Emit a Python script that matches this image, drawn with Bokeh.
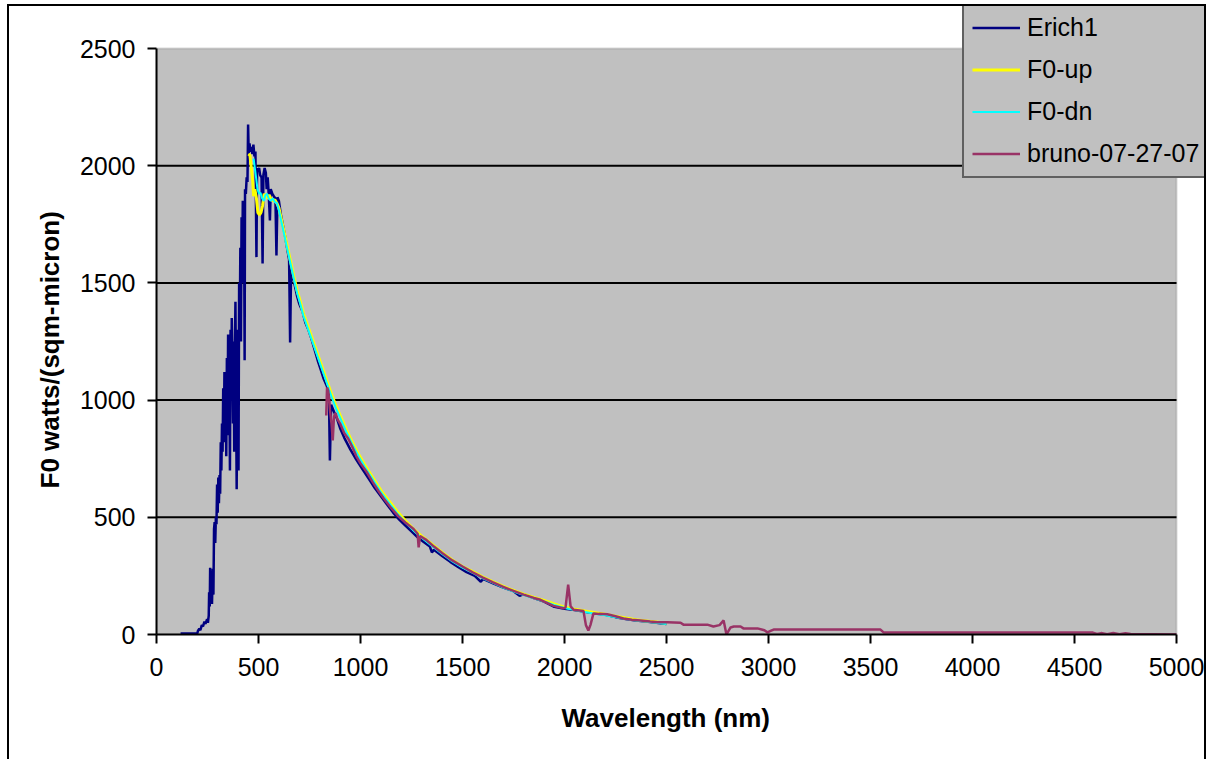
from bokeh.plotting import figure
from bokeh.models import Range1d, FixedTicker, Legend, LegendItem, BoxAnnotation, Title
from bokeh.embed import file_html
from bokeh.resources import INLINE

# ---------------- data ----------------
erich_x = [118, 200, 203, 210, 215, 222, 228, 235, 240, 248, 252, 256, 258, 261, 263, 266, 268, 272, 276, 279,
           282, 285, 288, 291, 294, 297, 300, 303, 306, 309, 312, 315, 318, 321, 324, 327, 330, 333, 336, 339,
           342, 345, 348, 351, 354, 357, 360, 363, 366, 369, 372, 375, 378, 381, 384, 387, 390, 393, 396, 399,
           402, 405, 408, 411, 414, 417, 420, 423, 426, 429, 432, 434, 438, 442, 446, 449, 452, 456, 460, 465,
           470, 475, 480, 485, 490, 493, 497, 503, 508, 515, 520, 524, 530, 536, 540, 545, 550, 556, 560, 568,
           575, 583, 588, 593, 600, 610, 620, 630, 640, 650, 655, 660, 670, 680, 690, 700, 715, 730, 745, 760,
           775, 790, 805, 820, 835, 845, 850, 856, 870, 885, 900, 920, 950, 980, 1010, 1040, 1070, 1100, 1130,
           1160, 1190, 1220, 1250, 1280, 1310, 1340, 1350, 1360, 1400, 1440, 1480, 1520, 1560, 1590, 1600, 1650,
           1700, 1750, 1780, 1800, 1850, 1900, 1950, 2000, 2050, 2100, 2150, 2200, 2250, 2300, 2350, 2400, 2450, 2500]
erich_y = [4, 4, 15, 25, 18, 40, 35, 55, 45, 65, 50, 80, 180, 120, 285, 150, 240, 130, 280, 170,
           450, 480, 390, 500, 470, 640, 520, 670, 560, 680, 600, 820, 700, 900, 780, 1050, 820, 1120, 900, 1000,
           760, 1180, 850, 1280, 950, 1100, 700, 1300, 1000, 1350, 1150, 900, 1250, 780, 1200, 1420, 1000, 620, 1300, 1100,
           700, 1500, 1300, 1650, 1250, 1780, 1500, 1850, 1700, 1820, 1170, 1900, 1880, 1950, 1930, 2176, 2050, 2095, 2060, 2080,
           2050, 2090, 2040, 2060, 1610, 1990, 1980, 1990, 1960, 1950, 1583, 1960, 1990, 1970, 1900, 1950, 1880, 1766, 1900, 1880,
           1870, 1860, 1617, 1865, 1850, 1790, 1745, 1700, 1650, 1600, 1246, 1570, 1520, 1480, 1440, 1410, 1380, 1330, 1300, 1260,
           1215, 1170, 1130, 1090, 1060, 1030, 742, 980, 950, 920, 880, 840, 790, 745, 705, 665, 625, 590, 555,
           520, 490, 465, 440, 415, 395, 375, 350, 362, 335, 310, 287, 266, 250, 225, 237, 218,
           200, 185, 165, 172, 155, 140, 118, 110, 104, 97, 90, 84, 74, 66, 60, 55, 50, 45]

f0up_x = [450, 458, 465, 472, 476, 482, 490, 497, 505, 512, 520, 528, 536, 544, 552, 560, 570, 580, 590, 600,
          615, 630, 645, 660, 675, 690, 705, 720, 740, 760, 780, 800, 820, 840, 860, 880, 900, 930, 960, 990,
          1020, 1060, 1100, 1140, 1180, 1220, 1260, 1300, 1350, 1400, 1450, 1500, 1550, 1600, 1650, 1700, 1750,
          1800, 1850, 1900, 1950, 2000, 2050, 2100, 2150, 2200, 2250, 2300, 2350, 2400, 2450, 2500]
f0up_y = [2050, 2045, 1990, 1930, 1870, 1900, 1860, 1800, 1790, 1800, 1830, 1880, 1870, 1860, 1875, 1860, 1850, 1855, 1840, 1820,
          1760, 1700, 1640, 1580, 1520, 1465, 1420, 1370, 1320, 1270, 1220, 1170, 1120, 1070, 1020, 975, 935, 875, 820, 770,
          725, 670, 615, 570, 525, 485, 450, 420, 385, 350, 318, 290, 268, 245, 225, 205, 188,
          172, 158, 145, 130, 117, 108, 100, 93, 86, 78, 70, 63, 58, 53, 48]

f0dn_x = [476, 482, 488, 495, 503, 510, 518, 526, 534, 542, 550, 560, 570, 580, 590, 600,
          615, 630, 645, 660, 675, 690, 705, 720, 740, 760, 780, 800, 820, 840, 860, 880, 900, 930, 960, 990,
          1020, 1060, 1100, 1140, 1180, 1220, 1260, 1300, 1350, 1400, 1450, 1500, 1550, 1600, 1650, 1700, 1750,
          1800, 1850, 1900, 1950, 2000, 2050, 2100, 2150, 2200, 2250, 2300, 2350, 2400, 2450, 2500]
f0dn_y = [2030, 1990, 1950, 1900, 1880, 1885, 1860, 1850, 1875, 1880, 1860, 1850, 1860, 1845, 1840, 1810,
          1750, 1690, 1630, 1570, 1510, 1455, 1410, 1360, 1310, 1260, 1210, 1160, 1110, 1060, 1010, 965, 925, 865, 812, 762,
          717, 662, 607, 562, 517, 478, 443, 413, 378, 344, 312, 285, 263, 240, 220, 200, 183,
          168, 154, 141, 126, 113, 104, 96, 89, 82, 74, 66, 60, 55, 50, 45]

bruno_x = [832, 836, 842, 850, 858, 864, 870, 878, 886, 900, 920, 940, 960, 980, 1000, 1033, 1060, 1090, 1114,
           1150, 1185, 1220, 1260, 1280, 1285, 1292, 1320, 1360, 1400, 1450, 1500, 1550, 1600, 1650, 1700, 1750,
           1800, 1850, 1882, 1946, 1995, 2005, 2018, 2030, 2044, 2093, 2105, 2117, 2127, 2142, 2170, 2210, 2250,
           2289, 2330, 2373, 2420, 2456, 2505, 2569, 2583, 2700, 2730, 2760, 2780, 2794, 2814, 2830, 2863, 2877,
           2946, 2980, 2995, 3010, 3025, 3549, 3564, 4000, 4590, 4610, 4630, 4660, 4690, 4720, 4750, 4775, 5000]
bruno_y = [934, 1054, 1040, 960, 900, 828, 930, 945, 920, 900, 860, 835, 800, 760, 730, 690, 650, 610, 580,
           540, 505, 478, 450, 430, 372, 420, 405, 375, 348, 316, 290, 265, 243, 222, 203, 186,
           170, 156, 148, 122, 112, 115, 213, 120, 106, 100, 40, 17, 40, 90, 88, 86, 78,
           68, 63, 60, 55, 52, 52, 50, 42, 42, 34, 40, 60, 0, 30, 34, 34, 26,
           26, 18, 9, 15, 21, 21, 9, 9, 8, 2, 6, 1, 6, 1, 5, 2, 0]

x_ticks = [0, 500, 1000, 1500, 2000, 2500, 3000, 3500, 4000, 4500, 5000]
y_ticks = [0, 500, 1000, 1500, 2000, 2500]

FONT = "Liberation Sans"

# plot area: 1020 x 586 px for 0..5000 x 0..2500; frame extended up/right so the legend can sit outside it
FW, FH = 1048, 628
x_max = x_ticks[-1] * FW / 1020.0
y_max = y_ticks[-1] * FH / 586.0

p = figure(frame_width=FW, frame_height=FH,
           min_border_left=147, min_border_right=0, min_border_top=0, min_border_bottom=125,
           x_range=Range1d(0, x_max), y_range=Range1d(0, y_max),
           output_backend="svg", toolbar_location=None)
p.styles = {"margin-left": "7px", "margin-top": "4px",
            "border-left": "2px solid black", "border-top": "2px solid black",
            "border-right": "2px solid black"}

p.background_fill_color = "white"
p.border_fill_color = "white"
p.outline_line_color = None
p.xgrid.visible = False
p.ygrid.visible = False

# gray plot area
area = BoxAnnotation(left=x_ticks[0], right=x_ticks[-1], bottom=y_ticks[0], top=y_ticks[-1],
                     fill_color="#C0C0C0", fill_alpha=1, line_color="#808080", line_width=2,
                     level="underlay")
p.add_layout(area)

# horizontal gridlines
grid_y = y_ticks[1:-1]
p.segment(x0=[x_ticks[0]] * len(grid_y), y0=grid_y, x1=[x_ticks[-1]] * len(grid_y), y1=grid_y,
          line_color="black", line_width=2)

for ax in (p.xaxis[0], p.yaxis[0]):
    ax.axis_line_color = "black"
    ax.axis_line_width = 2
    ax.major_tick_line_color = "black"
    ax.major_tick_line_width = 2
    ax.major_tick_out = 9
    ax.major_tick_in = 0
    ax.minor_tick_line_color = None
    ax.major_label_text_font = FONT
    ax.major_label_text_font_size = "25px"
    ax.major_label_text_color = "black"

p.xaxis[0].ticker = FixedTicker(ticks=x_ticks)
p.yaxis[0].ticker = FixedTicker(ticks=y_ticks)
p.xaxis[0].bounds = (x_ticks[0], x_ticks[-1])
p.yaxis[0].bounds = (y_ticks[0], y_ticks[-1])
p.xaxis[0].major_label_standoff = 14
p.yaxis[0].major_label_standoff = 12

# axis titles, centred on the gray plot area (not on the extended frame)
xt = Title(text="Wavelength (nm)", align="left", offset=405, standoff=44,
           text_font=FONT, text_font_size="26px", text_font_style="bold", text_color="black")
yt = Title(text="F0 watts/(sqm-micron)", align="left", offset=146, standoff=24,
           text_font=FONT, text_font_size="26px", text_font_style="bold", text_color="black")
p.add_layout(xt, "below")
p.add_layout(yt, "left")

r1 = p.line(erich_x, erich_y, line_color="#000080", line_width=2.5)
r2 = p.line(f0up_x, f0up_y, line_color="#FFFF00", line_width=3)
r3 = p.line(f0dn_x, f0dn_y, line_color="#00FFFF", line_width=2)
r4 = p.line(bruno_x, bruno_y, line_color="#993366", line_width=2.5)

legend = Legend(items=[LegendItem(label="Erich1", renderers=[r1]),
                       LegendItem(label="F0-up", renderers=[r2]),
                       LegendItem(label="F0-dn", renderers=[r3]),
                       LegendItem(label="bruno-07-27-07", renderers=[r4])],
                location=(806, 456))
legend.background_fill_color = "#C0C0C0"
legend.background_fill_alpha = 1
legend.border_line_color = "black"
legend.border_line_width = 2
legend.label_text_font = FONT
legend.label_text_font_size = "25px"
legend.label_text_color = "black"
legend.glyph_width = 48
legend.glyph_height = 29
legend.label_height = 29
legend.label_standoff = 7
legend.spacing = 13
legend.padding = 8
legend.margin = 0
p.add_layout(legend, "center")

open("out.html", "w").write(file_html(p, INLINE))
